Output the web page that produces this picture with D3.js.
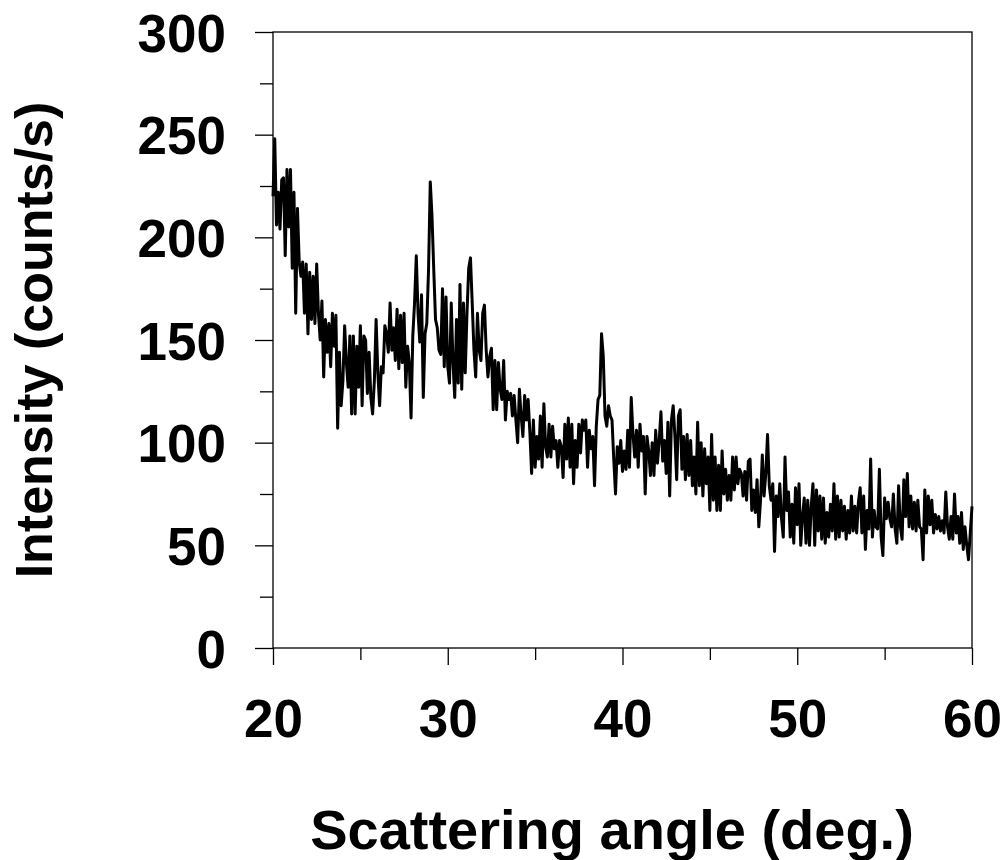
<!DOCTYPE html>
<html>
<head>
<meta charset="utf-8">
<script src="https://cdn.jsdelivr.net/npm/d3@7"></script>
<style>
  body { margin: 0; background: #fff; }
  .chart text { font-family: "Liberation Sans", Arial, sans-serif; font-weight: bold; fill: #000; }
</style>
</head>
<body>
<svg class="chart" width="1008" height="860"></svg>
<script>
// scan starts at 20 deg, one reading every 0.1 deg
var angleStart = 20
var angleStep = 0.1

var counts = [
  220, 248, 206, 222, 204, 228, 229, 191, 233, 205,
  233, 185, 222, 163, 214, 188, 181, 188, 163, 187,
  153, 183, 160, 181, 158, 187, 163, 150, 169, 132,
  160, 144, 158, 137, 163, 147, 162, 107, 144, 118,
  130, 157, 139, 127, 152, 114, 152, 114, 147, 127,
  157, 118, 152, 150, 124, 144, 122, 114, 130, 160,
  134, 118, 137, 134, 157, 153, 144, 168, 145, 156,
  140, 165, 136, 162, 139, 163, 127, 147, 139, 112,
  152, 168, 191, 163, 149, 172, 122, 153, 158, 184,
  227, 210, 184, 160, 156, 145, 143, 175, 137, 171,
  137, 129, 168, 139, 122, 160, 129, 177, 126, 168,
  134, 163, 185, 190, 168, 145, 132, 163, 145, 140,
  163, 167, 145, 132, 142, 146, 116, 140, 116, 139,
  126, 121, 140, 111, 125, 121, 124, 113, 123, 111,
  100, 126, 113, 103, 123, 111, 121, 105, 85, 111,
  88, 103, 92, 113, 88, 119, 98, 93, 109, 93,
  108, 97, 101, 88, 101, 98, 83, 109, 92, 112,
  88, 109, 80, 101, 88, 109, 95, 111, 106, 111,
  88, 106, 97, 103, 79, 108, 121, 123, 153, 142,
  113, 108, 118, 113, 111, 92, 75, 98, 90, 101,
  86, 96, 87, 106, 88, 122, 104, 93, 106, 88,
  109, 96, 103, 75, 103, 96, 84, 100, 84, 106,
  90, 101, 115, 91, 101, 85, 110, 74, 111, 118,
  103, 82, 113, 116, 87, 103, 82, 104, 84, 101,
  79, 93, 75, 110, 79, 100, 74, 97, 80, 93,
  67, 104, 72, 93, 67, 89, 67, 96, 75, 87,
  72, 84, 72, 93, 77, 93, 80, 87, 85, 74,
  86, 72, 91, 92, 67, 77, 66, 82, 59, 72,
  94, 74, 85, 104, 79, 72, 80, 47, 74, 64,
  80, 63, 54, 93, 67, 76, 54, 70, 51, 78,
  60, 80, 50, 64, 73, 51, 72, 50, 69, 80,
  50, 77, 57, 74, 53, 73, 51, 66, 54, 70,
  57, 80, 53, 74, 54, 72, 57, 69, 53, 67,
  56, 74, 57, 69, 56, 71, 78, 56, 74, 48,
  67, 58, 92, 54, 67, 59, 58, 87, 54, 45,
  73, 63, 71, 63, 59, 75, 58, 51, 79, 59,
  53, 82, 64, 85, 59, 74, 58, 71, 57, 72,
  59, 58, 43, 77, 56, 74, 60, 72, 56, 65,
  58, 64, 57, 62, 56, 76, 59, 53, 64, 53,
  75, 56, 64, 51, 66, 48, 59, 50, 43, 56,
  69
]

var xTicks = [20, 30, 40, 50, 60]
var xMinorTicks = [25, 35, 45, 55]
var yTicks = [0, 50, 100, 150, 200, 250, 300]
var yMinorTicks = [25, 75, 125, 175, 225, 275]

var xTitle = "Scattering angle (deg.)"
var yTitle = "Intensity (counts/s)"

var data = counts.map(function(c, i) {
  return { angle: angleStart + i * angleStep, count: c }
})

var chart = d3.select(".chart"),
    margin = {top: 32, right: 36, bottom: 212, left: 273},
    width = 1008 - margin.left - margin.right,
    height = 860 - margin.top - margin.bottom

var x = d3.scaleLinear().domain([20, 60]).range([0, width])
var y = d3.scaleLinear().domain([0, 300]).range([height, 0])

var g = chart.append("g")
  .attr("transform", "translate(" + margin.left + "," + margin.top + ")")

// frame
g.append("rect")
  .attr("width", width)
  .attr("height", height)
  .attr("fill", "none")
  .attr("stroke", "#000")
  .attr("stroke-width", 1.3)

var xAxis = g.append("g")
  .attr("class", "axis axis--x")
  .attr("transform", "translate(0," + height + ")")
  .call(d3.axisBottom(x).tickValues(xTicks).tickSize(17).tickSizeOuter(0).tickPadding(34))

xAxis.append("g")
  .call(d3.axisBottom(x).tickValues(xMinorTicks).tickSize(12).tickSizeOuter(0).tickFormat(""))

var yAxis = g.append("g")
  .attr("class", "axis axis--y")
  .call(d3.axisLeft(y).tickValues(yTicks).tickSize(18).tickSizeOuter(0).tickPadding(29))

yAxis.append("g")
  .call(d3.axisLeft(y).tickValues(yMinorTicks).tickSize(13).tickSizeOuter(0).tickFormat(""))

g.selectAll(".axis path").remove()
g.selectAll(".axis line").attr("stroke", "#000").attr("stroke-width", 1.3)
g.selectAll(".axis text")
  .attr("fill", "#000")
  .style("font-size", "53px")

yAxis.selectAll("text").attr("dy", "0.36em")

g.append("path")
  .datum(data)
  .attr("fill", "none")
  .attr("stroke", "#000")
  .attr("stroke-width", 3)
  .attr("stroke-linejoin", "round")
  .attr("d", d3.line()
    .x(function(d) { return x(d.angle) })
    .y(function(d) { return y(d.count) }))

chart.append("text")
  .attr("x", 612)
  .attr("y", 849)
  .attr("text-anchor", "middle")
  .style("font-size", "56px")
  .text(xTitle)

chart.append("text")
  .attr("transform", "translate(52," + (margin.top + height / 2) + ") rotate(-90)")
  .attr("text-anchor", "middle")
  .style("font-size", "52px")
  .text(yTitle)
</script>
</body>
</html>
